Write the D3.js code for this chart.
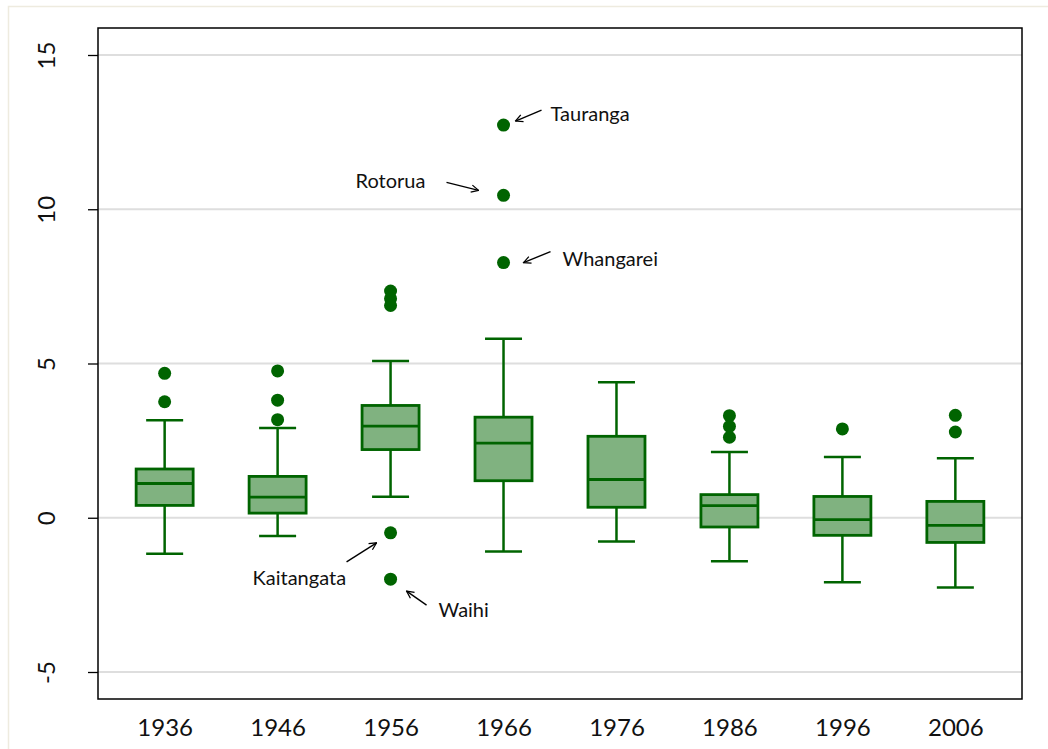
<!DOCTYPE html>
<html><head><meta charset="utf-8">
<script src="https://cdn.jsdelivr.net/npm/d3@7"></script>
<style>html,body{margin:0;padding:0;background:#fff}</style>
</head><body>
<svg id="chart" width="1048" height="749"></svg>
<script>
const years = ["1936","1946","1956","1966","1976","1986","1996","2006"];
const lowerWhisker = [-1.17, -0.59, 0.68, -1.09, -0.77, -1.41, -2.09, -2.26];
const q1Values     = [0.40, 0.15, 2.21, 1.20, 0.34, -0.30, -0.57, -0.80];
const medianValues = [1.11, 0.67, 2.97, 2.42, 1.24, 0.39, -0.06, -0.25];
const q3Values     = [1.58, 1.34, 3.64, 3.26, 2.64, 0.75, 0.69, 0.53];
const upperWhisker = [3.16, 2.91, 5.08, 5.80, 4.39, 2.13, 1.97, 1.93];
const outlierYears  = ["1936","1936","1946","1946","1946","1956","1956","1956","1956","1956","1966","1966","1966","1986","1986","1986","1996","2006","2006"];
const outlierValues = [4.68, 3.76, 4.76, 3.81, 3.18, 7.35, 7.10, 6.88, -0.49, -1.99, 12.73, 10.45, 8.27, 3.31, 2.96, 2.61, 2.88, 3.32, 2.78];
const yTicks = [-5, 0, 5, 10, 15];
const yTickLabels = ["-5", "0", "5", "10", "15"];
const labelNames = ["Tauranga","Rotorua","Whangarei","Kaitangata","Waihi"];
const labelYears = ["1966","1966","1966","1956","1956"];
const labelValues = [12.73, 10.45, 8.27, -0.49, -1.99];

const svg = d3.select("#chart");
const L = 98, R = 1022, T = 28, B = 699;
const x = d3.scalePoint().domain(years).range([L, R]).padding(0.59);
const y = d3.scaleLinear().domain([-5, 15]).range([672, 55]);

const dark = "#006400", fill = "#80b280";
const font = "Lato, 'Open Sans', sans-serif";

// outer frame
svg.append("rect").attr("x", 8.5).attr("y", 6.5).attr("width", 1100).attr("height", 800)
  .attr("fill", "#fff").attr("stroke", "#eeebdf").attr("stroke-width", 1.5);

// gridlines
svg.append("g").selectAll("line").data(yTicks).join("line")
  .attr("x1", L).attr("x2", R).attr("y1", d => y(d)).attr("y2", d => y(d))
  .attr("stroke", "#dedede").attr("stroke-width", 2);

// y axis
const yAxis = svg.append("g").attr("transform", `translate(${L},0)`)
  .call(d3.axisLeft(y).tickValues(yTicks).tickSize(10).tickFormat((d, i) => yTickLabels[i]));
yAxis.select(".domain").remove();
yAxis.selectAll(".tick line").attr("stroke", "#000").attr("stroke-width", 1.3);
yAxis.selectAll(".tick text").attr("font-family", font).attr("font-size", 24).attr("fill", "#111")
  .attr("x", null).attr("dy", null).attr("text-anchor", "middle")
  .attr("transform", "translate(-43,0) rotate(-90)");

// x axis labels
const xAxis = svg.append("g").attr("transform", `translate(0,${B})`)
  .call(d3.axisBottom(x).tickSize(0));
xAxis.select(".domain").remove();
xAxis.selectAll(".tick text").attr("font-family", font).attr("font-size", 24).attr("fill", "#111")
  .attr("y", 37).attr("dy", null);

// boxes
const boxW = 57, capW = 37;
const g = svg.append("g");
years.forEach((yr, i) => {
  const cx = x(yr);
  const grp = g.append("g");
  grp.append("line").attr("x1", cx).attr("x2", cx).attr("y1", y(upperWhisker[i])).attr("y2", y(q3Values[i]))
    .attr("stroke", dark).attr("stroke-width", 2.5);
  grp.append("line").attr("x1", cx).attr("x2", cx).attr("y1", y(q1Values[i])).attr("y2", y(lowerWhisker[i]))
    .attr("stroke", dark).attr("stroke-width", 2.5);
  [upperWhisker[i], lowerWhisker[i]].forEach(v => {
    grp.append("line").attr("x1", cx - capW / 2).attr("x2", cx + capW / 2).attr("y1", y(v)).attr("y2", y(v))
      .attr("stroke", dark).attr("stroke-width", 2.5);
  });
  grp.append("rect").attr("x", cx - boxW / 2).attr("width", boxW)
    .attr("y", y(q3Values[i])).attr("height", y(q1Values[i]) - y(q3Values[i]))
    .attr("fill", fill).attr("stroke", dark).attr("stroke-width", 2.8);
  grp.append("line").attr("x1", cx - boxW / 2).attr("x2", cx + boxW / 2)
    .attr("y1", y(medianValues[i])).attr("y2", y(medianValues[i]))
    .attr("stroke", dark).attr("stroke-width", 2.8);
});

// outliers
svg.append("g").selectAll("circle").data(outlierValues).join("circle")
  .attr("cx", (d, i) => x(outlierYears[i])).attr("cy", d => y(d)).attr("r", 6.5).attr("fill", dark);

// plot frame
svg.append("rect").attr("x", L).attr("y", T).attr("width", R - L).attr("height", B - T)
  .attr("fill", "none").attr("stroke", "#000").attr("stroke-width", 1.5);

// annotations: text offset and arrow offsets relative to the point
const textPos = [[47, -4], [-148, -7], [59, 3], [-138, 52], [48, 38]];
const arrowPos = [[[38, -15], [12, -4]], [[-57, -13], [-25, -5]], [[47, -11], [20, 0]], [[-44, 29], [-14, 10]], [[36, 26], [16, 12]]];
const defs = svg.append("defs");
defs.append("marker").attr("id", "ah").attr("viewBox", "0 0 10 10").attr("refX", 9).attr("refY", 5)
  .attr("markerWidth", 9).attr("markerHeight", 9).attr("markerUnits", "userSpaceOnUse").attr("orient", "auto")
  .append("path").attr("d", "M1,1 L9,5 L1,9").attr("fill", "none").attr("stroke", "#000").attr("stroke-width", 1.4);
const ann = svg.append("g");
labelNames.forEach((name, i) => {
  const px = x(labelYears[i]), py = y(labelValues[i]);
  ann.append("text").attr("x", px + textPos[i][0]).attr("y", py + textPos[i][1])
    .attr("font-family", font).attr("font-size", 20).attr("fill", "#111").text(name);
  const a = arrowPos[i];
  ann.append("line").attr("x1", px + a[0][0]).attr("y1", py + a[0][1]).attr("x2", px + a[1][0]).attr("y2", py + a[1][1])
    .attr("stroke", "#000").attr("stroke-width", 1.4).attr("marker-end", "url(#ah)");
});
</script>
</body></html>
